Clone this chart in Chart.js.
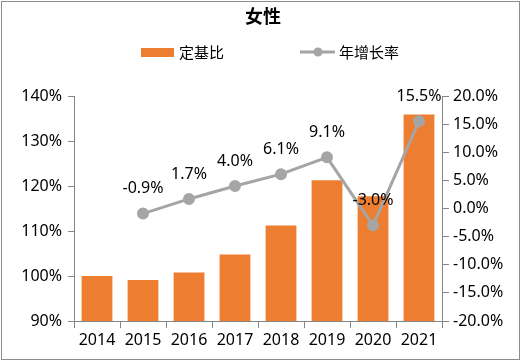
<!DOCTYPE html>
<html>
<head>
<meta charset="utf-8">
<script src="https://cdn.jsdelivr.net/npm/chart.js@4"></script>
<style>
  html, body { margin: 0; padding: 0; background: #fff; }
  #wrap { width: 521px; height: 362px; }
</style>
</head>
<body>
<div id="wrap"><canvas id="c" width="521" height="362"></canvas></div>
<script>
const years = ['2014', '2015', '2016', '2017', '2018', '2019', '2020', '2021'];
const baseIndex = [100.0, 99.1, 100.8, 104.8, 111.2, 121.3, 117.7, 135.9];
const growthRate = [null, -0.9, 1.7, 4.0, 6.1, 9.1, -3.0, 15.5];
const growthLabels = ['', '-0.9%', '1.7%', '4.0%', '6.1%', '9.1%', '-3.0%', '15.5%'];

const barColor = '#ED7D31';
const lineColor = '#A5A5A5';
const axisColor = '#868686';
const textFont = '"Noto Sans", "Noto Sans CJK SC", sans-serif';

// white background, outer frame, title and legend
const frame = {
  id: 'frame',
  beforeDraw(chart) {
    const c = chart.ctx;
    c.save();
    c.fillStyle = '#fff';
    c.fillRect(0, 0, chart.width, chart.height);
    c.strokeStyle = '#8c8c8c';
    c.lineWidth = 1;
    c.strokeRect(1.5, 1.5, chart.width - 3, chart.height - 4);

    c.fillStyle = '#000';
    c.textAlign = 'center';
    c.textBaseline = 'middle';
    c.font = 'bold 18px "Noto Sans CJK SC", sans-serif';
    c.fillText('女性', 263, 16);

    c.font = '15px "Noto Sans CJK SC", sans-serif';
    c.textAlign = 'left';
    c.fillStyle = barColor;
    c.fillRect(141, 48, 33, 9);
    c.fillStyle = '#000';
    c.fillText('定基比', 179, 52);

    c.strokeStyle = lineColor;
    c.lineWidth = 3;
    c.beginPath();
    c.moveTo(300, 52);
    c.lineTo(335, 52);
    c.stroke();
    c.fillStyle = lineColor;
    c.beginPath();
    c.arc(318, 52, 4.5, 0, Math.PI * 2);
    c.fill();
    c.fillStyle = '#000';
    c.fillText('年增长率', 339, 52);
    c.restore();
  }
};

// value labels above the growth line
const pointLabels = {
  id: 'pointLabels',
  afterDatasetsDraw(chart) {
    const c = chart.ctx;
    const meta = chart.getDatasetMeta(1);
    c.save();
    c.font = '16px ' + textFont;
    c.fillStyle = '#000';
    c.textAlign = 'center';
    c.textBaseline = 'middle';
    meta.data.forEach((pt, i) => {
      if (growthRate[i] === null) return;
      c.fillText(growthLabels[i], pt.x, pt.y - 25);
    });
    c.restore();
  }
};

new Chart(document.getElementById('c'), {
  plugins: [frame, pointLabels],
  data: {
    labels: years,
    datasets: [
      {
        type: 'bar',
        label: '定基比',
        data: baseIndex,
        backgroundColor: barColor,
        categoryPercentage: 0.67,
        barPercentage: 1,
        yAxisID: 'y',
        order: 2
      },
      {
        type: 'line',
        label: '年增长率',
        data: growthRate,
        borderColor: lineColor,
        backgroundColor: lineColor,
        borderWidth: 3,
        pointRadius: 4.5,
        pointBackgroundColor: lineColor,
        pointBorderColor: lineColor,
        tension: 0,
        yAxisID: 'y1',
        order: 1
      }
    ]
  },
  options: {
    responsive: false,
    animation: false,
    layout: { padding: { top: 96, left: 0, right: 0, bottom: 0 } },
    plugins: {
      legend: { display: false },
      title: { display: false },
      tooltip: { enabled: false }
    },
    scales: {
      x: {
        afterFit: s => { s.height = 41; },
        grid: { offset: true, drawOnChartArea: false, drawTicks: true, tickLength: 7, color: axisColor },
        border: { color: axisColor },
        ticks: { color: '#000', padding: 3, maxRotation: 0, font: { size: 16, family: textFont } }
      },
      y: {
        position: 'left',
        min: 90,
        max: 140,
        afterFit: s => { s.width = 74; },
        grid: { drawOnChartArea: false, tickLength: 6, color: axisColor },
        border: { color: axisColor },
        ticks: {
          stepSize: 10,
          color: '#000',
          padding: 6,
          font: { size: 16, family: textFont },
          callback: v => v + '%'
        }
      },
      y1: {
        position: 'right',
        min: -20,
        max: 20,
        afterFit: s => { s.width = 79; },
        grid: { drawOnChartArea: false, tickLength: 7, color: axisColor },
        border: { color: axisColor },
        ticks: {
          stepSize: 5,
          color: '#000',
          padding: 4,
          font: { size: 16, family: textFont },
          callback: v => v.toFixed(1) + '%'
        }
      }
    }
  }
});
</script>
</body>
</html>
